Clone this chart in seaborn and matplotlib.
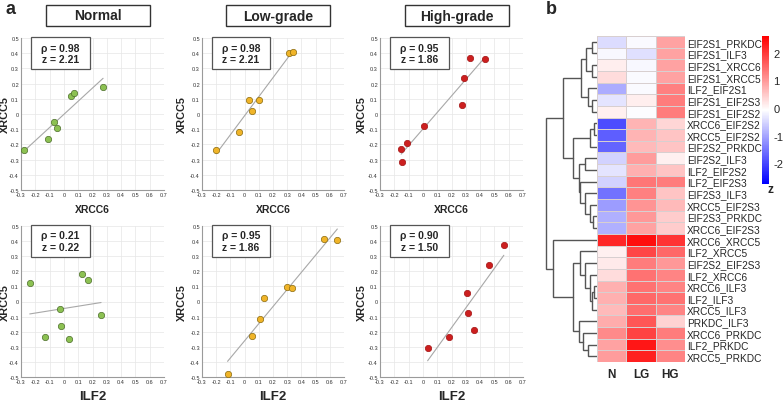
import numpy as np
import pandas as pd
import matplotlib
matplotlib.use("Agg")
import matplotlib.pyplot as plt
from matplotlib.patches import Rectangle
from matplotlib.ticker import FixedLocator, FuncFormatter
import seaborn as sns

# ---- panel a: scatter data ----
groups = ["Normal", "Low-grade", "High-grade"]
group_colors = ["#8cc152", "#f0b428", "#cc1f1f"]
group_edges = ["#4d6e2c", "#8a6a10", "#a31515"]

normal_xrcc6 = [-0.280, -0.112, -0.067, -0.045, 0.052, 0.069, 0.274]
normal_xrcc5_a = [-0.234, -0.164, -0.054, -0.093, 0.118, 0.140, 0.177]
low_xrcc6 = [-0.200, -0.042, 0.030, 0.050, 0.100, 0.315, 0.338]
low_xrcc5_a = [-0.234, -0.120, 0.090, 0.020, 0.095, 0.400, 0.410]
high_xrcc6 = [-0.152, -0.143, -0.112, 0.010, 0.270, 0.285, 0.330, 0.437]
high_xrcc5_a = [-0.230, -0.313, -0.190, -0.078, 0.056, 0.240, 0.370, 0.360]

normal_ilf2 = [-0.239, -0.134, -0.028, -0.019, 0.037, 0.124, 0.168, 0.260]
normal_xrcc5_b = [0.121, -0.234, -0.052, -0.163, -0.250, 0.181, 0.143, -0.090]
low_ilf2 = [-0.120, 0.049, 0.105, 0.140, 0.300, 0.335, 0.557, 0.653]
low_xrcc5_b = [-0.478, -0.230, -0.117, 0.023, 0.096, 0.092, 0.416, 0.405]
high_ilf2 = [0.033, 0.185, 0.309, 0.316, 0.356, 0.461, 0.566]
high_xrcc5_b = [-0.311, -0.232, 0.057, -0.076, -0.187, 0.245, 0.371]

rho_top = ["0.98", "0.98", "0.95"]
z_top = ["2.21", "2.21", "1.86"]
rho_bottom = ["0.21", "0.95", "0.90"]
z_bottom = ["0.22", "1.86", "1.50"]

# ---- panel b: heatmap data ----
pair_labels = ["EIF2S1_PRKDC", "EIF2S1_ILF3", "EIF2S1_XRCC6", "EIF2S1_XRCC5",
               "ILF2_EIF2S1", "EIF2S1_EIF2S3", "EIF2S1_EIF2S2", "XRCC6_EIF2S2",
               "XRCC5_EIF2S2", "EIF2S2_PRKDC", "EIF2S2_ILF3", "ILF2_EIF2S2",
               "ILF2_EIF2S3", "EIF2S3_ILF3", "XRCC5_EIF2S3", "EIF2S3_PRKDC",
               "XRCC6_EIF2S3", "XRCC6_XRCC5", "ILF2_XRCC5", "EIF2S2_EIF2S3",
               "ILF2_XRCC6", "XRCC6_ILF3", "ILF2_ILF3", "XRCC5_ILF3",
               "PRKDC_ILF3", "XRCC6_PRKDC", "ILF2_PRKDC", "XRCC5_PRKDC"]
hm_cols = ["N", "LG", "HG"]
z_n = [-0.45, -0.15, 0.10, 0.30, -0.95, -0.35, 0.08, -1.95, -1.75, -1.70,
       -0.55, -0.35, -0.55, -1.55, -1.10, -0.90, -0.90, 2.20, 0.08, 0.15,
       0.30, 0.75, 0.75, 0.65, 0.80, 1.15, 0.90, 0.95]
z_lg = [-0.12, -0.40, -0.15, -0.12, -0.12, 0.10, -0.10, 0.70, 0.70, 0.65,
        0.95, 0.75, 1.35, 1.25, 1.05, 1.00, 0.90, 2.45, 1.85, 1.30,
        1.40, 1.40, 1.50, 1.45, 1.70, 1.90, 2.35, 2.25]
z_hg = [0.90, 0.90, 0.90, 0.90, 1.25, 1.30, 1.30, 0.35, 0.55, 0.55,
        0.08, 0.55, 1.30, 0.55, 0.65, 0.45, 0.45, 2.05, 1.50, 1.00,
        1.20, 1.20, 1.40, 1.20, 0.40, 1.30, 1.10, 1.20]

# row dendrogram: (left, right, merge distance); leaves are row indices
tree_a = (((0, 1, 5), (2, 3, 5), 11), (4, (5, 6, 5), 9), 16)
tree_b = (((7, 8, 3), 9, 7),
          ((10, 11, 12), (12, (13, (14, (15, 16, 4), 7), 12), 17), 18), 24)
tree_c = ((18, (19, (20, ((21, 22, 3), 23, 5), 7), 12), 17),
          (24, (25, (26, 27, 9), 14), 18), 24)
row_tree = ((tree_a, tree_b, 34), (17, tree_c, 44), 51)

sns.set_style("whitegrid")
plt.rcParams["font.family"] = ["Liberation Sans", "DejaVu Sans"]

W, H = 784, 402
fig = plt.figure(figsize=(W / 100, H / 100), dpi=100)


def px_box(x0, y0, x1, y1):
    return [x0 / W, 1 - y1 / H, (x1 - x0) / W, (y1 - y0) / H]


col_x = [(21, 164), (202, 344), (380, 523)]
row_y = [(39, 191), (227, 378)]
ylabel_x = [-0.077, -0.106, -0.091]
panel_data = [
    [(normal_xrcc6, normal_xrcc5_a), (low_xrcc6, low_xrcc5_a), (high_xrcc6, high_xrcc5_a)],
    [(normal_ilf2, normal_xrcc5_b), (low_ilf2, low_xrcc5_b), (high_ilf2, high_xrcc5_b)],
]
stats = [(rho_top, z_top), (rho_bottom, z_bottom)]

fmt = FuncFormatter(lambda v, p: "0" if abs(v) < 1e-9 else f"{v:.1f}")

for r in range(2):
    for c in range(3):
        x0, x1 = col_x[c]
        y0, y1 = row_y[r]
        ax = fig.add_axes(px_box(x0, y0, x1, y1))
        xs, ys = panel_data[r][c]
        df = pd.DataFrame({"x": xs, "y": ys})
        sns.regplot(data=df, x="x", y="y", ax=ax, ci=None, scatter=False,
                    line_kws=dict(color="#a8a8a8", lw=0.8))
        sns.scatterplot(data=df, x="x", y="y", ax=ax, s=21,
                        color=group_colors[c], edgecolor=group_edges[c],
                        linewidth=0.5, zorder=3)
        ax.set_xlim(-0.3, 0.7)
        ax.set_ylim(-0.5, 0.5)
        ax.xaxis.set_major_locator(FixedLocator(np.round(np.arange(-0.3, 0.71, 0.1), 1)))
        ax.yaxis.set_major_locator(FixedLocator(np.round(np.arange(-0.5, 0.51, 0.1), 1)))
        ax.xaxis.set_major_formatter(fmt)
        ax.yaxis.set_major_formatter(fmt)
        ax.tick_params(labelsize=4, length=0, pad=1.5, colors="#333333")
        ax.grid(True, color="#e6e6e6", lw=0.5)
        for s in ["top", "right"]:
            ax.spines[s].set_visible(False)
        for s in ["left", "bottom"]:
            ax.spines[s].set_color("#9a9a9a")
            ax.spines[s].set_linewidth(0.8)
        ax.set_ylabel("XRCC5", fontsize=7.8, fontweight="bold")
        ax.yaxis.set_label_coords(ylabel_x[c], 0.5)
        if r == 0:
            ax.set_xlabel("XRCC6", fontsize=7.5, fontweight="bold", labelpad=5)
        else:
            ax.set_xlabel("ILF2", fontsize=9.5, fontweight="bold", labelpad=4)
        # correlation box
        ax.add_patch(Rectangle((0.07, 0.795), 0.41, 0.21, transform=ax.transAxes,
                               fc="white", ec="#555555", lw=0.9, zorder=5,
                               clip_on=False))
        rho, zz = stats[r]
        ax.text(0.275, 0.9, f"ρ = {rho[c]}\nz = {zz[c]}", transform=ax.transAxes,
                ha="center", va="center", fontsize=7.5, fontweight="bold",
                linespacing=1.15, zorder=6)

# group title boxes
for c in range(3):
    x0, x1 = col_x[c]
    cx = (x0 + x1) / 2 + 5
    fig.patches.append(Rectangle(((cx - 52) / W, 1 - 27 / H), 104 / W, 21 / H,
                                 transform=fig.transFigure, fc="white",
                                 ec="#333333", lw=1.0))
    fig.text(cx / W, 1 - 16.5 / H, groups[c], ha="center", va="center",
             fontsize=10, fontweight="bold")

fig.text(10 / W, 1 - 10 / H, "a", ha="center", va="center", fontsize=13, fontweight="bold")
fig.text(551 / W, 1 - 10 / H, "b", ha="center", va="center", fontsize=13, fontweight="bold")

# ---- heatmap ----
hm_df = pd.DataFrame({"N": z_n, "LG": z_lg, "HG": z_hg}, index=pair_labels)[hm_cols]
ax_hm = fig.add_axes(px_box(597, 37, 685, 363))
cax = fig.add_axes(px_box(762, 37, 769, 185))
sns.heatmap(hm_df, ax=ax_hm, cmap="bwr", vmin=-2.75, vmax=2.6, cbar_ax=cax,
            linewidths=0.6, linecolor="#d8cfd0", xticklabels=True, yticklabels=True)
ax_hm.yaxis.tick_right()
ax_hm.set_yticklabels(pair_labels, rotation=0, fontsize=7.3)
ax_hm.set_xticklabels(hm_cols, rotation=0, fontsize=8.5, fontweight="bold")
ax_hm.tick_params(length=0, pad=1.5, axis="y")
ax_hm.tick_params(length=0, pad=4, axis="x")
ax_hm.set_xlabel("")
ax_hm.set_ylabel("")
cbar = ax_hm.collections[0].colorbar
cbar.set_ticks([2, 1, 0, -1, -2])
cbar.set_ticklabels(["2", "1", "0", "-1", "-2"])
cbar.outline.set_visible(False)
cax.tick_params(labelsize=8, length=0, pad=3)
fig.text(770 / W, 1 - 190 / H, "z", ha="center", va="center", fontsize=8.5, fontweight="bold")

# ---- row dendrogram ----
ax_dn = fig.add_axes(px_box(545, 37, 597, 363))


def draw_node(node):
    if isinstance(node, int):
        return node + 0.5, 0
    left, right, d = node
    yl, dl = draw_node(left)
    yr, dr = draw_node(right)
    ax_dn.plot([dl, d, d, dr], [yl, yl, yr, yr], color="#555555", lw=1.0,
               solid_joinstyle="miter")
    return (yl + yr) / 2, d


draw_node(row_tree)
ax_dn.set_xlim(52, 0)
ax_dn.set_ylim(len(pair_labels), 0)
ax_dn.axis("off")

fig.savefig("out.png", dpi=100)
